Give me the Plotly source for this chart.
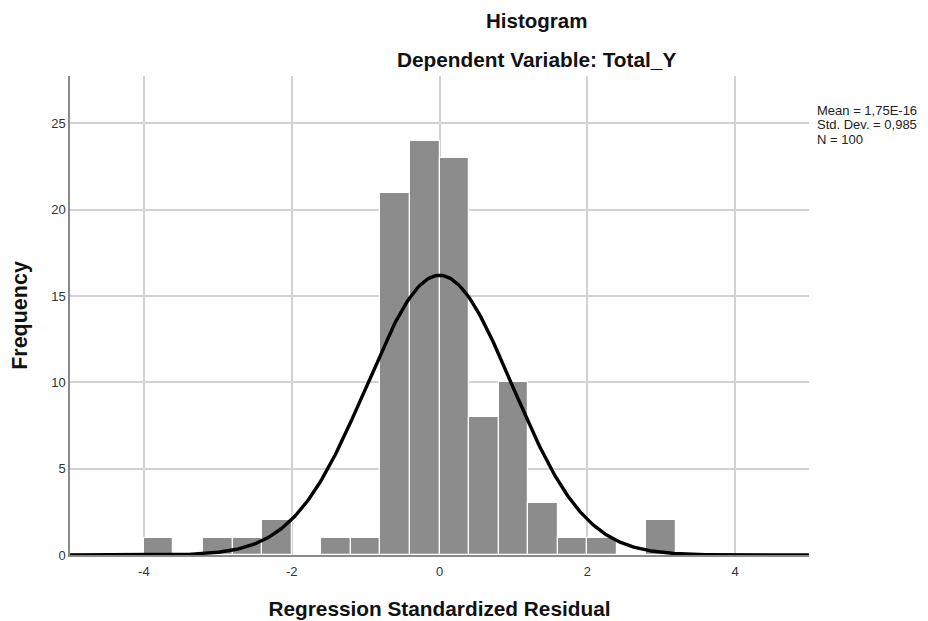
import numpy as np
import plotly.graph_objects as go

# Histogram data (bin left edges, width 0.4) and counts
bin_left = [-4.0, -3.2, -2.8, -2.4, -1.6, -1.2, -0.8, -0.4, 0.0, 0.4, 0.8, 1.2, 1.6, 2.0, 2.8]
counts = [1, 1, 1, 2, 1, 1, 21, 24, 23, 8, 10, 3, 1, 1, 2]
bin_width = 0.4

# Stated statistics
mean_val = 1.75e-16
std_val = 0.985
n_val = 100
stats_lines = ["Mean = 1,75E-16", "Std. Dev. = 0,985", "N = 100"]

x_ticks = [-4, -2, 0, 2, 4]
y_ticks = [0, 5, 10, 15, 20, 25]

centers = [b + bin_width / 2 for b in bin_left]

# Normal curve fitted from stated statistics
xs = np.linspace(-5, 5, 400)
ys = n_val * bin_width * np.exp(-0.5 * ((xs - mean_val) / std_val) ** 2) / (std_val * np.sqrt(2 * np.pi))

# Page offset of 8px (body margin) compensated
W, H = 912, 612
L, R, T, B = 62, 111, 68, 65
PW, PH = W - L - R, H - T - B
OFF = 8


def px_x(x):
    return (x - OFF - L) / PW


def px_y(y):
    return (H - B - (y - OFF)) / PH


fig = go.Figure()
fig.add_trace(go.Bar(
    x=centers, y=counts, width=bin_width,
    marker=dict(color="#8c8c8c", line=dict(color="white", width=1.2)),
    showlegend=False, hoverinfo="x+y",
))
fig.add_trace(go.Scatter(
    x=xs, y=ys, mode="lines",
    line=dict(color="black", width=3.4),
    showlegend=False, hoverinfo="skip",
))

fig.update_layout(
    width=W, height=H,
    margin=dict(l=L, r=R, t=T, b=B, autoexpand=False),
    paper_bgcolor="white", plot_bgcolor="white",
    font=dict(family="Liberation Sans, Arial, sans-serif", color="#222"),
    bargap=0,
    xaxis=dict(
        range=[-5, 5], tickvals=x_ticks, ticktext=[str(t) for t in x_ticks],
        showgrid=True, gridcolor="#d2d2d2", gridwidth=1.5,
        showline=True, linecolor="#8a8a8a", linewidth=1.5,
        zeroline=False, ticks="", tickfont=dict(size=13, color="#333"),
        ticklabelstandoff=4, automargin=False,
        title=dict(text="<b>Regression Standardized Residual</b>", font=dict(size=20.8, color="#111"), standoff=27),
    ),
    yaxis=dict(
        range=[0, 27.75], tickvals=y_ticks,
        showgrid=True, gridcolor="#d2d2d2", gridwidth=1.5,
        showline=True, linecolor="#8a8a8a", linewidth=1.5,
        zeroline=False, ticks="", tickfont=dict(size=13, color="#333"),
        automargin=False,
        title=dict(text="<b>Frequency</b>", font=dict(size=21.5, color="#111"), standoff=18),
    ),
)

fig.add_annotation(
    xref="paper", yref="paper", x=px_x(536), y=px_y(20),
    xanchor="center", yanchor="middle",
    text="<b>Histogram</b>", showarrow=False, font=dict(size=20.5, color="#111"),
)
fig.add_annotation(
    xref="paper", yref="paper", x=px_x(536), y=px_y(59),
    xanchor="center", yanchor="middle",
    text="<b>Dependent Variable: Total_Y</b>", showarrow=False,
    font=dict(size=20.8, color="#111"),
)
for i, line in enumerate(stats_lines):
    fig.add_annotation(
        xref="paper", yref="paper", x=px_x(815), y=px_y(110.7 + 14.3 * i),
        xanchor="left", yanchor="middle", align="left",
        text=line, showarrow=False,
        font=dict(size=13, color="#222"),
    )

fig.write_html("out.html")
